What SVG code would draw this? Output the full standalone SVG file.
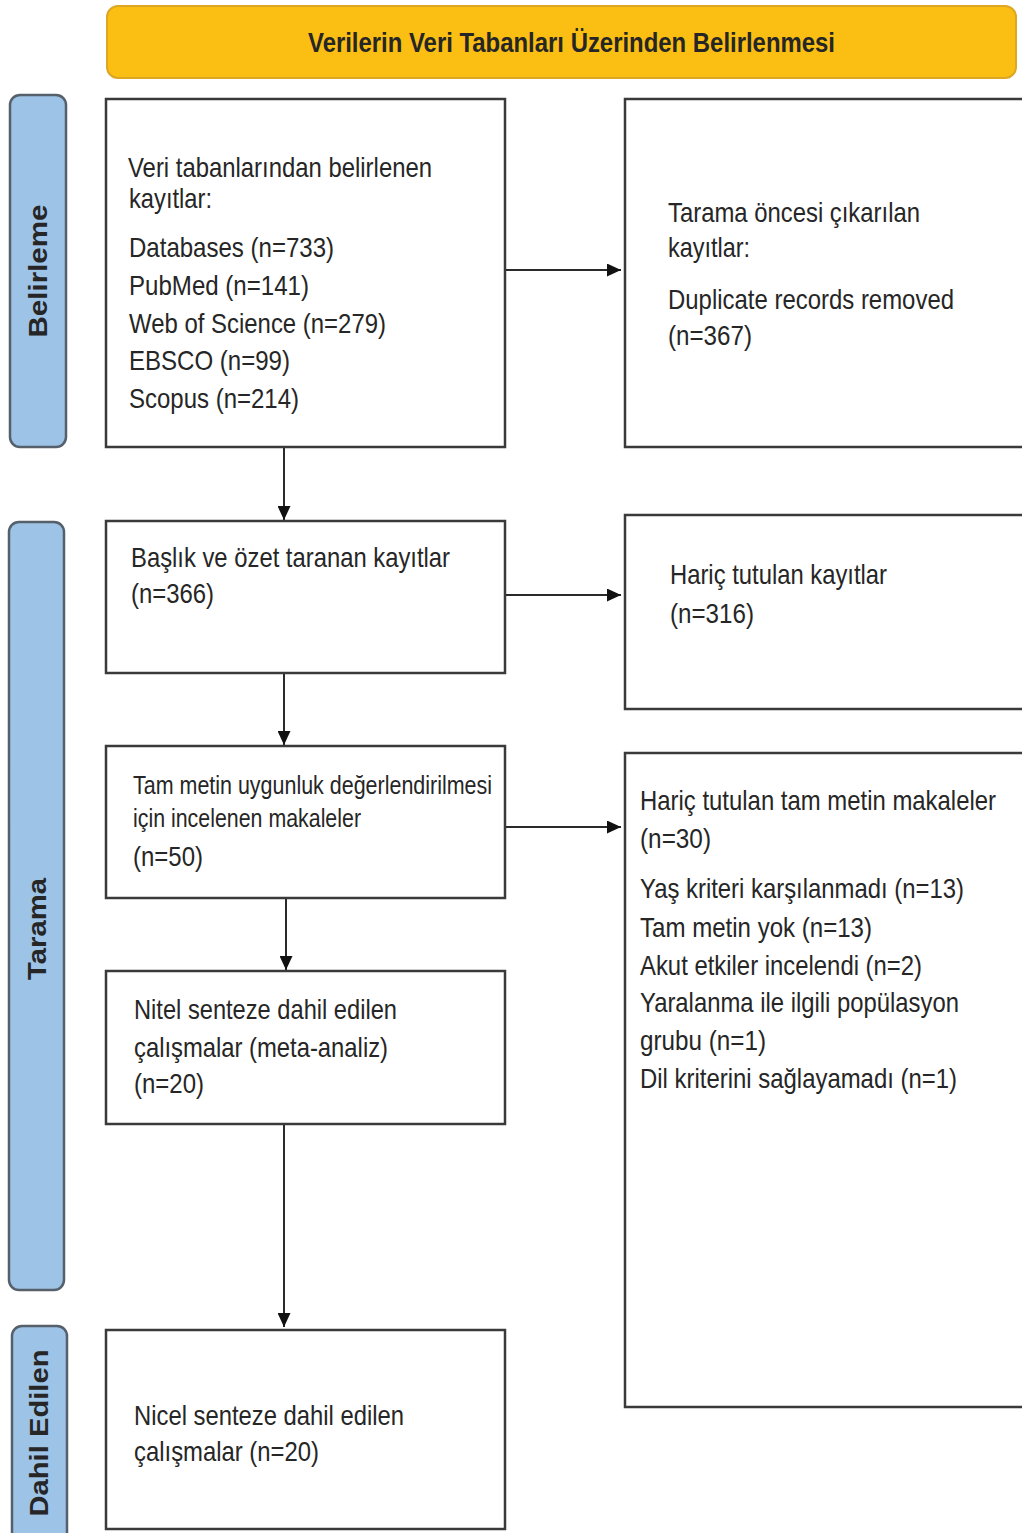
<svg xmlns="http://www.w3.org/2000/svg" width="1022" height="1533" viewBox="0 0 1022 1533">
<defs>
<style>
.box{fill:#fff;stroke:#3a3a3a;stroke-width:2.5}
.side{fill:#9DC3E6;stroke:#55606b;stroke-width:2.5}
.banner{fill:#FBBF14;stroke:#DDA623;stroke-width:2}
.t{font-family:"Liberation Sans",Arial,sans-serif;font-size:28px;fill:#262626}
.ts{font-family:"Liberation Sans",Arial,sans-serif;font-size:25px;fill:#262626}
.b{font-family:"Liberation Sans",Arial,sans-serif;font-size:26px;font-weight:bold;fill:#262626}
.bt{font-family:"Liberation Sans",Arial,sans-serif;font-size:27px;font-weight:bold;fill:#262626}
.c{stroke:#2a2a2a;stroke-width:2;fill:none;marker-end:url(#ah)}
</style>
<marker id="ah" viewBox="0 0 10 10" refX="10" refY="5" markerWidth="14" markerHeight="13" markerUnits="userSpaceOnUse" orient="auto" preserveAspectRatio="none">
<path d="M0,0 L10,5 L0,10 z" fill="#111"/>
</marker>
</defs>
<rect width="1022" height="1533" fill="#fff"/>

<g id="banner">
<rect class="banner" x="107" y="6" width="909" height="72" rx="11"/>
<text class="bt" x="308" y="52" textLength="527" lengthAdjust="spacingAndGlyphs">Verilerin Veri Tabanları Üzerinden Belirlenmesi</text>
</g>

<g id="side-belirleme">
<rect class="side" x="10" y="95" width="56" height="352" rx="10"/>
<text class="b" transform="translate(47,271) rotate(-90)" text-anchor="middle" textLength="133" lengthAdjust="spacingAndGlyphs">Belirleme</text>
</g>
<g id="side-tarama">
<rect class="side" x="9" y="522" width="55" height="768" rx="10"/>
<text class="b" transform="translate(46,929) rotate(-90)" text-anchor="middle" textLength="102" lengthAdjust="spacingAndGlyphs">Tarama</text>
</g>
<g id="side-dahil">
<rect class="side" x="12" y="1326" width="55" height="220" rx="10"/>
<text class="b" transform="translate(48,1433) rotate(-90)" text-anchor="middle" textLength="167" lengthAdjust="spacingAndGlyphs">Dahil Edilen</text>
</g>

<g id="connectors">
<line class="c" x1="284" y1="447" x2="284" y2="520"/>
<line class="c" x1="505" y1="270" x2="621" y2="270"/>
<line class="c" x1="284" y1="673" x2="284" y2="745"/>
<line class="c" x1="505" y1="595" x2="621" y2="595"/>
<line class="c" x1="286" y1="898" x2="286" y2="970"/>
<line class="c" x1="505" y1="827" x2="621" y2="827"/>
<line class="c" x1="284" y1="1124" x2="284" y2="1327"/>
</g>

<g id="n-identified">
<rect class="box" x="106" y="99" width="399" height="348"/>
<text class="t" x="128" y="177" textLength="304" lengthAdjust="spacingAndGlyphs">Veri tabanlarından belirlenen</text>
<text class="t" x="129" y="208" textLength="83" lengthAdjust="spacingAndGlyphs">kayıtlar:</text>
<text class="t" x="129" y="257" textLength="205" lengthAdjust="spacingAndGlyphs">Databases (n=733)</text>
<text class="t" x="129" y="295" textLength="180" lengthAdjust="spacingAndGlyphs">PubMed (n=141)</text>
<text class="t" x="129" y="333" textLength="257" lengthAdjust="spacingAndGlyphs">Web of Science (n=279)</text>
<text class="t" x="129" y="370" textLength="161" lengthAdjust="spacingAndGlyphs">EBSCO (n=99)</text>
<text class="t" x="129" y="408" textLength="170" lengthAdjust="spacingAndGlyphs">Scopus (n=214)</text>
</g>

<g id="n-removed">
<rect class="box" x="625" y="99" width="410" height="348"/>
<text class="t" x="668" y="222" textLength="252" lengthAdjust="spacingAndGlyphs">Tarama öncesi çıkarılan</text>
<text class="t" x="668" y="257" textLength="82" lengthAdjust="spacingAndGlyphs">kayıtlar:</text>
<text class="t" x="668" y="309" textLength="286" lengthAdjust="spacingAndGlyphs">Duplicate records removed</text>
<text class="t" x="668" y="345" textLength="84" lengthAdjust="spacingAndGlyphs">(n=367)</text>
</g>

<g id="n-screened">
<rect class="box" x="106" y="521" width="399" height="152"/>
<text class="t" x="131" y="567" textLength="319" lengthAdjust="spacingAndGlyphs">Başlık ve özet taranan kayıtlar</text>
<text class="t" x="131" y="603" textLength="83" lengthAdjust="spacingAndGlyphs">(n=366)</text>
</g>

<g id="n-excluded">
<rect class="box" x="625" y="515" width="410" height="194"/>
<text class="t" x="670" y="584" textLength="217" lengthAdjust="spacingAndGlyphs">Hariç tutulan kayıtlar</text>
<text class="t" x="670" y="623" textLength="84" lengthAdjust="spacingAndGlyphs">(n=316)</text>
</g>

<g id="n-fulltext">
<rect class="box" x="106" y="746" width="399" height="152"/>
<text class="ts" x="133" y="794" textLength="359" lengthAdjust="spacingAndGlyphs">Tam metin uygunluk değerlendirilmesi</text>
<text class="ts" x="133" y="827" textLength="228" lengthAdjust="spacingAndGlyphs">için incelenen makaleler</text>
<text class="t" x="133" y="866" textLength="70" lengthAdjust="spacingAndGlyphs">(n=50)</text>
</g>

<g id="n-fulltext-excluded">
<rect class="box" x="625" y="753" width="410" height="654"/>
<text class="t" x="640" y="810" textLength="356" lengthAdjust="spacingAndGlyphs">Hariç tutulan tam metin makaleler</text>
<text class="t" x="640" y="848" textLength="71" lengthAdjust="spacingAndGlyphs">(n=30)</text>
<text class="t" x="640" y="898" textLength="324" lengthAdjust="spacingAndGlyphs">Yaş kriteri karşılanmadı (n=13)</text>
<text class="t" x="640" y="937" textLength="232" lengthAdjust="spacingAndGlyphs">Tam metin yok (n=13)</text>
<text class="t" x="640" y="975" textLength="282" lengthAdjust="spacingAndGlyphs">Akut etkiler incelendi (n=2)</text>
<text class="t" x="640" y="1012" textLength="319" lengthAdjust="spacingAndGlyphs">Yaralanma ile ilgili popülasyon</text>
<text class="t" x="640" y="1050" textLength="126" lengthAdjust="spacingAndGlyphs">grubu (n=1)</text>
<text class="t" x="640" y="1088" textLength="317" lengthAdjust="spacingAndGlyphs">Dil kriterini sağlayamadı (n=1)</text>
</g>

<g id="n-qualitative">
<rect class="box" x="106" y="971" width="399" height="153"/>
<text class="t" x="134" y="1019" textLength="263" lengthAdjust="spacingAndGlyphs">Nitel senteze dahil edilen</text>
<text class="t" x="134" y="1057" textLength="254" lengthAdjust="spacingAndGlyphs">çalışmalar (meta-analiz)</text>
<text class="t" x="134" y="1093" textLength="70" lengthAdjust="spacingAndGlyphs">(n=20)</text>
</g>

<g id="n-quantitative">
<rect class="box" x="106" y="1330" width="399" height="199"/>
<text class="t" x="134" y="1425" textLength="270" lengthAdjust="spacingAndGlyphs">Nicel senteze dahil edilen</text>
<text class="t" x="134" y="1461" textLength="185" lengthAdjust="spacingAndGlyphs">çalışmalar (n=20)</text>
</g>
</svg>
